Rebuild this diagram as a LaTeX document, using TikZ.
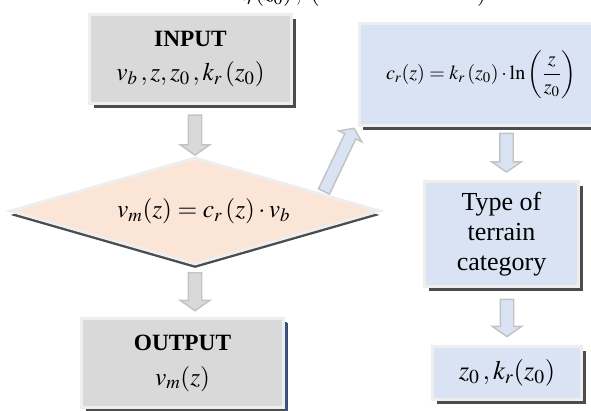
\documentclass[tikz,border=0pt]{standalone}
\usepackage{amsmath}
\usepackage{mathptmx}
\usepackage{fontspec}
\setmainfont{Liberation Serif}
\usepackage{xcolor}
\usetikzlibrary{positioning,calc,shapes.geometric,shapes.arrows,shadows}

\definecolor{boxgray}{RGB}{217,217,217}
\definecolor{boxblue}{RGB}{218,227,243}
\definecolor{boxpeach}{RGB}{251,229,214}
\definecolor{rimgray}{RGB}{238,238,238}
\definecolor{arrowrim}{RGB}{195,195,195}
\definecolor{edgeblue}{RGB}{47,85,151}

\tikzset{
	flowbox/.style={rectangle, draw=rimgray, line width=2.25pt, inner sep=0pt, align=center,
		drop shadow={shadow xshift=3pt, shadow yshift=-3.5pt, fill=black!70, opacity=1}},
	decision/.style={diamond, draw=rimgray, line width=2.25pt, fill=boxpeach, inner sep=0pt,
		aspect=3.46, minimum width=277.5pt, minimum height=80.25pt,
		drop shadow={shadow xshift=0pt, shadow yshift=-3pt, fill=black!70, opacity=1}},
	blockarrow/.style={single arrow, draw=arrowrim, line width=1.1pt, inner xsep=0pt,
		inner ysep=4.5pt, single arrow head extend=6pt, single arrow tip angle=110,
		minimum width=0pt}
}

\begin{document}
\begin{tikzpicture}[x=0.75pt,y=0.75pt,yscale=-1,xscale=1]
			\clip (0,0) rectangle (591,410);
	
			% Text Node
			\node [font=\fontsize{18}{20}\selectfont, anchor=base west, inner sep=0pt] (topnote) at (236,1)
				{$k_r(z_0)\,,\ \left(\hspace{118pt}\right)$};
			% Input Box
			\node [flowbox, fill=boxgray, minimum width=151.5pt, minimum height=66.75pt,
				font=\fontsize{17.5}{26}\selectfont] (input) at (190.5,59)
				{\textbf{INPUT}\\{\fontsize{19}{26}\selectfont$v_b\,, z, z_0\,, k_r\,(z_0)$}};
			% Decision
			\node [decision, font=\fontsize{19}{22}\selectfont] (dec) at (195,211)
				{\hspace{13pt}$v_m(z) = c_r\,(z)\cdot v_b$};
			% Formula Box
			\node [flowbox, fill=boxblue, minimum width=183pt, minimum height=75.75pt,
				font=\fontsize{15}{18}\selectfont] (cr) at (481,74.5)
				{$c_r(z) = k_r\left(z_0\right)\cdot\ln\left(\dfrac{z}{z_0}\right)$};
			% Terrain Box
			\node [flowbox, fill=boxblue, minimum width=115.5pt, minimum height=78.75pt,
				font=\fontsize{19.5}{22.5}\selectfont] (terrain) at (501.5,234)
				{Type of\\terrain\\category};
			% Roughness Box
			\node [flowbox, fill=boxblue, minimum width=111.75pt, minimum height=39.75pt,
				font=\fontsize{20}{22}\selectfont] (rough) at (507,372.5)
				{$z_0\,, k_r(z_0)$};
			% Output Box
			\node [flowbox, fill=boxgray, minimum width=151.5pt, minimum height=67.1pt,
				font=\fontsize{17.5}{26}\selectfont] (output) at (182.5,363.25)
				{\textbf{OUTPUT}\\{\fontsize{19}{26}\selectfont$v_m(z)$}};
			% Connection
			\node [blockarrow, fill=boxgray, rotate=-90, minimum height=30pt, anchor=tip] (inarrow) at (dec.north) {};
			% Connection
			\node [blockarrow, fill=boxgray, rotate=-90, minimum height=28.5pt, anchor=tail] (outarrow) at ($(dec.south)+(0,6)$) {};
			% Connection
			\node [blockarrow, fill=boxblue, rotate=64.5, minimum height=52.5pt, inner ysep=4pt,
				single arrow head extend=5pt, anchor=tip] (crarrow) at ($(cr.south west)+(-3,1)$) {};
			% Connection
			\node [blockarrow, fill=boxblue, rotate=-90, minimum height=29pt, anchor=tip] (terrarrow) at ($(terrain.north)+(5,-7)$) {};
			% Connection
			\node [blockarrow, fill=boxblue, rotate=-90, minimum height=28pt, anchor=tip] (rougharrow) at ($(rough.north)+(0,-7)$) {};
			% Edge Line
			\draw [edgeblue, line width=1.2pt] ($(output.north east)+(1,5)$) -- ($(output.south east)+(1,10)$);
			\end{tikzpicture}
\end{document}
